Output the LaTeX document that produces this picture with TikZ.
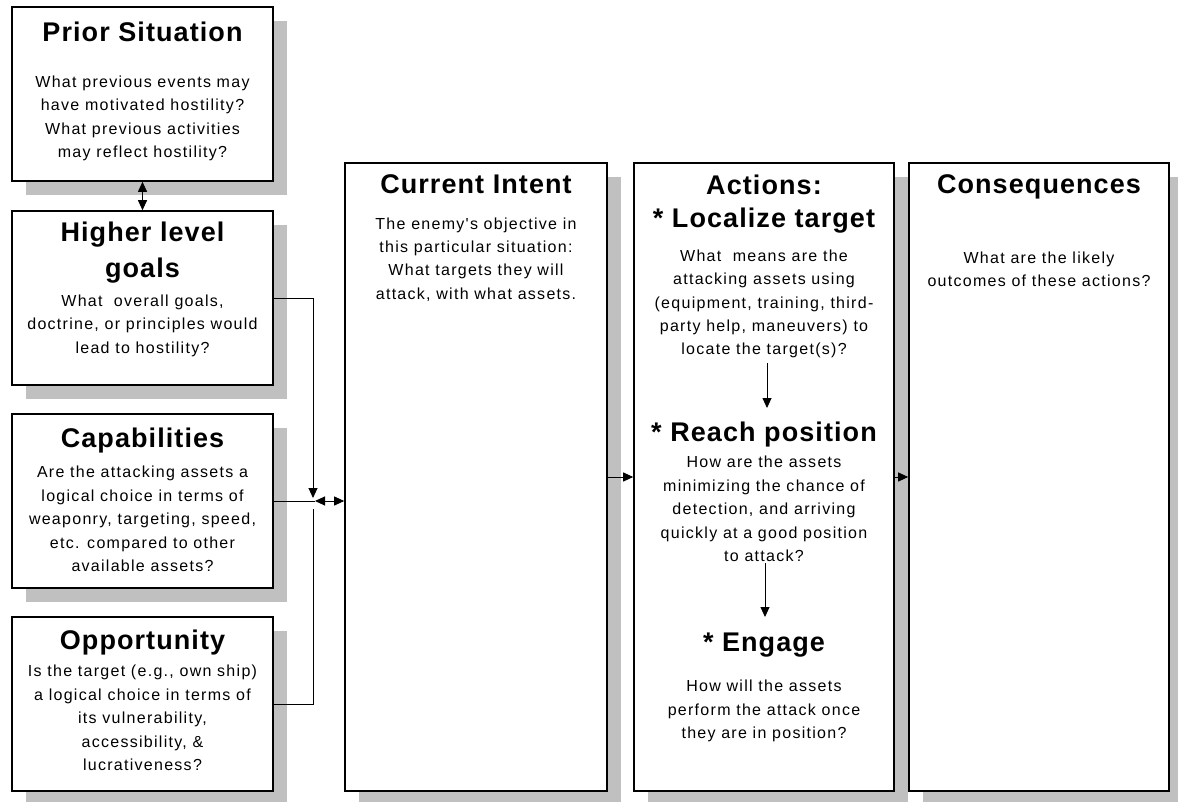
\documentclass[tikz,border=0pt]{standalone}
\usepackage{fontspec}
\setmainfont{Liberation Sans}
\newfontfamily\ttlfont{Liberation Sans}[LetterSpace=4]
\newfontfamily\bdyfont{Liberation Sans}[LetterSpace=8]
\usetikzlibrary{arrows.meta,shadows}
\definecolor{shadowgray}{HTML}{C0C0C0}
\begin{document}
\begin{tikzpicture}[x=1pt,y=-1pt,
  panel/.style={draw=black, line width=1.6pt, fill=white, inner sep=0pt,
    general shadow={fill=shadowgray, shadow xshift=14pt, shadow yshift=-14pt}},
  sidebox/.style={panel, minimum width=261pt, minimum height=174pt},
  tallbox/.style={panel, minimum width=260pt, minimum height=628pt},
  ttl/.style={font=\ttlfont\bfseries\fontsize{27}{36}\selectfont, align=center, inner sep=0pt},
  ttlone/.style={ttl, text height=19.5pt, text depth=5.5pt},
  bdy/.style={font=\bdyfont\fontsize{16}{23.4}\selectfont, align=center, inner sep=0pt},
  conn/.style={line width=0.9pt},
  arr/.style={conn, -{Triangle[length=10pt,width=9pt]}},
  dblarr/.style={conn, {Triangle[length=10pt,width=9pt]}-{Triangle[length=10pt,width=9pt]}}]
\useasboundingbox (0,0) rectangle (1178,802);

% boxes
\node[sidebox] (P) at (142.5,94) {};
\node[sidebox] (H) at (142.5,298) {};
\node[sidebox] (C) at (142.5,501) {};
\node[sidebox] (O) at (142.5,704) {};
\node[tallbox, minimum width=262pt] (CI) at (476,477) {};
\node[tallbox] (A) at (764,477) {};
\node[tallbox] (Q) at (1039,477) {};

% texts
\node[ttlone] (Pt) at (142.5,34.7) {Prior Situation};
\node[bdy] (Pb) at (142.5,118.5) {What previous events may\\have motivated hostility?\\What previous activities\\may reflect hostility?};

\node[ttl] (Ht) at (142.5,253) {Higher level\\goals};
\node[bdy] (Hb) at (142.5,325.5) {What\ \ overall goals,\\doctrine, or principles would\\lead to hostility?};

\node[ttlone] (Ct) at (142.5,440) {Capabilities};
\node[bdy] (Cb) at (142.5,519) {Are the attacking assets a\\logical choice in terms of\\weaponry, targeting, speed,\\etc. compared to other\\available assets?};

\node[ttlone] (Ot) at (142.5,642) {Opportunity};
\node[bdy] (Ob) at (142.5,718) {Is the target (e.g., own ship)\\a logical choice in terms of\\its vulnerability,\\accessibility, \&\\lucrativeness?};

\node[ttlone] (CIt) at (476,187) {Current Intent};
\node[bdy] (CIb) at (476,259.5) {The enemy's objective in\\this particular situation:\\What targets they will\\attack, with what assets.};

\node[ttlone] (At) at (764,188) {Actions:};
\node[ttlone] (A1t) at (764,221) {* Localize target};
\node[bdy] (A1b) at (764,304) {What\ \ means are the\\attacking assets using\\(equipment, training, third-\\party help, maneuvers) to\\locate the target(s)?};
\node[ttlone] (A2t) at (764,434) {* Reach position};
\node[bdy] (A2b) at (764,509) {How are the assets\\minimizing the chance of\\detection, and arriving\\quickly at a good position\\to attack?};
\node[ttlone] (A3t) at (764,644) {* Engage};
\node[bdy] (A3b) at (764,711) {How will the assets\\perform the attack once\\they are in position?};

\node[ttlone] (Qt) at (1039,186.3) {Consequences};
\node[bdy] (Qb) at (1039,269) {What are the likely\\outcomes of these actions?};

% connectors
\coordinate (jt) at (313,498);
\coordinate (jb) at (313,509);
\coordinate (jl) at (315,501);
\coordinate (a1s) at (767,363);
\coordinate (a1e) at (767,408);
\coordinate (a2s) at (765,563);
\coordinate (a2e) at (765,617);

\draw[dblarr] (P.south) -- (H.north);
\draw[arr] (H.east) -| (jt);
\draw[conn] (O.east) -| (jb);
\draw[conn] (C.east) -- (jl);
\draw[dblarr] (jl) -- (jl -| CI.west);
\draw[arr] (CI.east) -- (A.west);
\draw[arr] (A.east) -- (Q.west);
\draw[arr] (a1s) -- (a1e);
\draw[arr] (a2s) -- (a2e);
\end{tikzpicture}
\end{document}
